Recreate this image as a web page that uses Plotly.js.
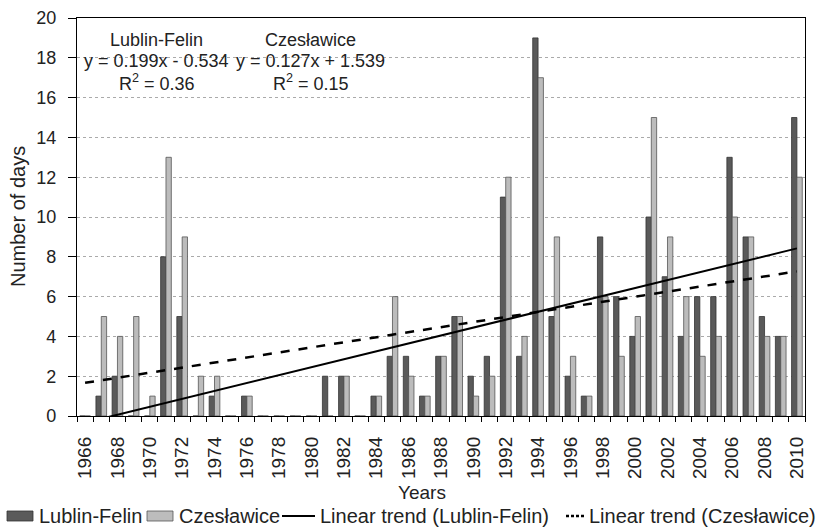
<!DOCTYPE html>
<html>
<head>
<meta charset="utf-8">
<script src="https://cdn.plot.ly/plotly-3.0.1.min.js"></script>
<style>html,body{margin:0;padding:0;background:#fff}#chart{width:820px;height:527px}</style>
</head>
<body>
<div id="chart"></div>
<script>
const years = [1966,1967,1968,1969,1970,1971,1972,1973,1974,1975,1976,1977,1978,1979,1980,1981,1982,1983,1984,1985,1986,1987,1988,1989,1990,1991,1992,1993,1994,1995,1996,1997,1998,1999,2000,2001,2002,2003,2004,2005,2006,2007,2008,2009,2010];
const lublinFelin = [0,1,2,0,0,8,5,0,1,0,1,0,0,0,0,2,2,0,1,3,3,1,3,5,2,3,11,3,19,5,2,1,9,6,4,10,7,4,6,6,13,9,5,4,15];
const czeslawice = [0,5,4,5,1,13,9,2,2,0,1,0,0,0,0,0,2,0,1,6,2,1,3,5,1,2,12,4,17,9,3,1,6,3,5,15,9,6,3,4,10,9,4,4,12];
const tickYears = [1966,1968,1970,1972,1974,1976,1978,1980,1982,1984,1986,1988,1990,1992,1994,1996,1998,2000,2002,2004,2006,2008,2010];
const seriesNames = ['Lublin-Felin', 'Czesławice', 'Linear trend (Lublin-Felin)', 'Linear trend (Czesławice)'];
const eqLublin = ['Lublin-Felin', 'y = 0.199x - 0.534', 'R<sup>2</sup> = 0.36'];
const eqCzes = ['Czesławice', 'y = 0.127x + 1.539', 'R<sup>2</sup> = 0.15'];

function linfit(vals){
  const n = vals.length; let sx=0, sy=0, sxx=0, sxy=0;
  for(let i=0;i<n;i++){const x=i+1; sx+=x; sy+=vals[i]; sxx+=x*x; sxy+=x*vals[i];}
  const b=(n*sxy-sx*sy)/(n*sxx-sx*sx); const a=(sy-b*sx)/n;
  return vals.map((v,i)=>a+b*(i+1));
}

const font = 'Arial, "Liberation Sans", sans-serif';
const darkFill = '#5a5a5a', lightFill = '#bcbcbc';
const traces = [
  {type:'bar', name:seriesNames[0], x:years, y:lublinFelin,
   marker:{color:darkFill, line:{color:'#333', width:0.8}}},
  {type:'bar', name:seriesNames[1], x:years, y:czeslawice,
   marker:{color:lightFill, line:{color:'#555', width:0.8}}},
  {type:'scatter', mode:'lines', name:seriesNames[2], x:years, y:linfit(lublinFelin),
   line:{color:'#000', width:2}},
  {type:'scatter', mode:'lines', name:seriesNames[3], x:years, y:linfit(czeslawice),
   line:{color:'#000', width:2.5, dash:'dash'}}
];

// plot area in pixels: left 77, right 805, top 18, bottom 416
const PL=77, PW=728, PB=416, PH=398;
const px = v => (v-PL)/PW;
const py = v => (PB-v)/PH;

const annYs = [18.89, 17.84, 16.78];
const annotations = [];
[[eqLublin,1970.44],[eqCzes,1979.96]].forEach(([lines,xc])=>{
  lines.forEach((t,k)=>annotations.push({xref:'x', yref:'y', x:xc, y:annYs[k], showarrow:false,
    text:t, font:{size:18, color:'#222'}, xanchor:'center', yanchor:'middle'}));
});
// axis titles
annotations.push({xref:'paper', yref:'paper', x:px(422), y:py(492), text:'Years', showarrow:false,
  font:{size:19, color:'#222'}, xanchor:'center', yanchor:'middle'});
annotations.push({xref:'paper', yref:'paper', x:px(18), y:py(217), text:'Number of days', showarrow:false,
  textangle:-90, font:{size:20, color:'#222'}, xanchor:'center', yanchor:'middle'});
// legend texts
const legTextX = [37, 177, 318, 587];
seriesNames.forEach((t,i)=>annotations.push({xref:'paper', yref:'paper', x:px(legTextX[i]), y:py(516),
  text:t, showarrow:false, font:{size:20, color:'#222'}, xanchor:'left', yanchor:'middle'}));

const shapes = [
  {type:'rect', xref:'paper', yref:'paper', x0:px(7), x1:px(33), y0:py(521), y1:py(511),
   fillcolor:darkFill, line:{color:'#333', width:0.8}},
  {type:'rect', xref:'paper', yref:'paper', x0:px(147), x1:px(173), y0:py(521), y1:py(511),
   fillcolor:lightFill, line:{color:'#555', width:0.8}},
  {type:'line', xref:'paper', yref:'paper', x0:px(282), x1:px(315), y0:py(516), y1:py(516),
   line:{color:'#000', width:2}},
  {type:'line', xref:'paper', yref:'paper', x0:px(566), x1:px(585), y0:py(516), y1:py(516),
   line:{color:'#000', width:2.5, dash:'3px,2px'}}
];

const layout = {
  width:820, height:527,
  margin:{l:77, r:15, t:18, b:111},
  paper_bgcolor:'#fff', plot_bgcolor:'#fff',
  font:{family:font, color:'#222', size:18},
  barmode:'group', bargap:0.34, bargroupgap:0,
  showlegend:false,
  xaxis:{range:[1965.5,2010.5], tickmode:'array', tickvals:tickYears, ticktext:tickYears.map(String),
         tickangle:-90, ticks:'', showgrid:false, zeroline:false, automargin:false,
         showline:true, linecolor:'#000', linewidth:1.2, mirror:true,
         tickfont:{size:19, color:'#222'}, ticklabelstandoff:12,
         minor:{tick0:1965.5, dtick:1, ticks:'outside', ticklen:5, tickcolor:'#000', showgrid:false}},
  yaxis:{range:[0,20], dtick:2, ticks:'outside', ticklen:8, tickcolor:'#000', automargin:false,
         showgrid:true, gridcolor:'#aaa', griddash:'dot', gridwidth:1,
         zeroline:false, showline:true, linecolor:'#000', linewidth:1.2, mirror:true,
         tickfont:{size:18, color:'#222'}, ticklabelstandoff:8},
  annotations:annotations,
  shapes:shapes
};
Plotly.newPlot('chart', traces, layout, {displayModeBar:false, staticPlot:true});
</script>
</body>
</html>
